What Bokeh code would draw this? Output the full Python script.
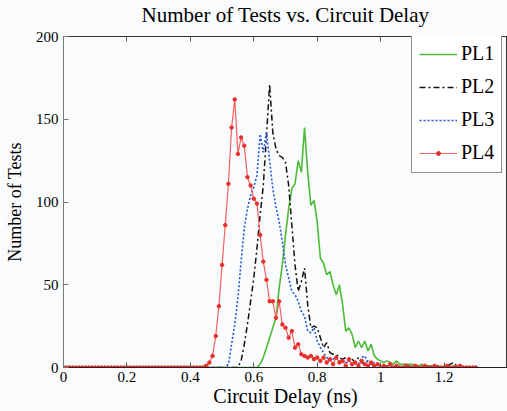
from bokeh.plotting import figure
from bokeh.models import (Range1d, LinearAxis, FixedTicker, Legend,
                          LegendItem, CustomJSTickFormatter)
from bokeh.embed import file_html
from bokeh.resources import INLINE

# ---------------- data ----------------
delay = [i / 100 for i in range(131)]  # circuit delay bins (ns), 0.00 .. 1.30

pl1 = [0, 0, 0, 0, 0, 0, 0, 0, 0, 0,
       0, 0, 0, 0, 0, 0, 0, 0, 0, 0,
       0, 0, 0, 0, 0, 0, 0, 0, 0, 0,
       0, 0, 0, 0, 0, 0, 0, 0, 0, 0,
       0, 0, 0, 0, 0, 0, 0, 0, 0, 0,
       0, 0, 0, 0, 0, 0, 0, 0, 0, 0,
       0, 0, 2, 6, 12, 18, 24, 30, 48, 62,
       80, 96, 108, 111, 125, 118, 145, 118, 98, 101,
       88, 66, 63, 56, 58, 50, 44, 50, 38, 22,
       24, 20, 12, 16, 12, 16, 10, 14, 7, 5,
       4, 3, 4, 3, 2, 4, 2, 2, 2, 2,
       2, 1, 1, 2, 1, 1, 1, 0, 1, 0,
       0, 0, 0, 1, 0, 0, 0, 0, 0, 0, 0]

pl2 = [0, 0, 0, 0, 0, 0, 0, 0, 0, 0,
       0, 0, 0, 0, 0, 0, 0, 0, 0, 0,
       0, 0, 0, 0, 0, 0, 0, 0, 0, 0,
       0, 0, 0, 0, 0, 0, 0, 0, 0, 0,
       0, 0, 0, 0, 0, 0, 0, 0, 0, 0,
       0, 0, 0, 0, 0, 0, 4, 14, 26, 40,
       54, 72, 92, 110, 140, 171, 142, 132, 128, 127,
       124, 110, 86, 62, 46, 52, 60, 38, 24, 25,
       24, 18, 12, 15, 9, 8, 8, 6, 5, 6,
       4, 5, 3, 6, 3, 2, 4, 2, 1, 2,
       1, 0, 1, 0, 0, 1, 0, 0, 0, 1,
       0, 0, 1, 0, 0, 0, 0, 0, 1, 0,
       0, 1, 2, 3, 1, 0, 0, 0, 0, 0, 0]

pl3 = [0, 0, 0, 0, 0, 0, 0, 0, 0, 0,
       0, 0, 0, 0, 0, 0, 0, 0, 0, 0,
       0, 0, 0, 0, 0, 0, 0, 0, 0, 0,
       0, 0, 0, 0, 0, 0, 0, 0, 0, 0,
       0, 0, 0, 0, 0, 0, 0, 0, 0, 0,
       0, 0, 2, 14, 26, 42, 64, 84, 96, 104,
       109, 116, 141, 130, 142, 125, 108, 97, 88, 76,
       62, 54, 46, 44, 40, 34, 31, 22, 21, 24,
       16, 12, 9, 6, 4, 5, 6, 4, 5, 3,
       4, 2, 3, 2, 6, 7, 3, 2, 3, 1,
       2, 1, 0, 1, 0, 0, 1, 0, 0, 0,
       0, 0, 0, 0, 0, 0, 0, 0, 0, 0,
       0, 1, 0, 0, 0, 0, 0, 0, 0, 0, 0]

pl4 = [0, 0, 0, 0, 0, 0, 0, 0, 0, 0,
       0, 0, 0, 0, 0, 0, 0, 0, 0, 0,
       0, 0, 0, 0, 0, 0, 0, 0, 0, 0,
       0, 0, 0, 0, 0, 0, 0, 0, 0, 0,
       0, 0, 0, 0, 0, 1, 3, 7, 19, 37,
       62, 86, 111, 145, 162, 129, 139, 134, 115, 110,
       102, 99, 80, 64, 53, 40, 40, 30, 40, 26,
       24, 18, 22, 12, 14, 8, 7, 6, 7, 5,
       6, 4, 6, 3, 5, 2, 6, 3, 4, 1,
       5, 2, 3, 1, 4, 2, 1, 3, 1, 2,
       0, 1, 0, 2, 0, 1, 0, 0, 1, 0,
       0, 1, 0, 0, 1, 0, 0, 1, 0, 0,
       0, 1, 0, 0, 0, 1, 0, 0, 0, 0, 0]

series_names = ["PL1", "PL2", "PL3", "PL4"]
x_ticks = [0, 0.2, 0.4, 0.6, 0.8, 1.0, 1.2]
x_tick_labels = ["0", "0.2", "0.4", "0.6", "0.8", "1", "1.2"]
y_ticks = [0, 50, 100, 150, 200]

title_text = "Number of Tests vs. Circuit Delay"
x_label = "Circuit Delay (ns)"
y_label = "Number of Tests"

# ---------------- style ----------------
BG = "#fafbfd"
FONT = "'Liberation Serif'"
TXT = "#000000"
GREEN = "#4dbb35"
BLACK = "#111111"
BLUE = "#2455d4"
RED_LINE = "#f36060"
RED_MARK = "#e8302a"

x0, x1 = 0, 1.4
y0, y1 = 0, 200

p = figure(width=507, height=411,
           x_range=Range1d(x0, x1), y_range=Range1d(y0, y1),
           output_backend="svg", toolbar_location=None,
           min_border_left=63, min_border_right=0,
           min_border_top=35, min_border_bottom=44,
           background_fill_color=BG, border_fill_color=BG)
p.grid.visible = False
p.outline_line_color = "#333333"
p.outline_line_width = 1

p.title.text = title_text
p.title.align = "center"
p.title.text_font = FONT
p.title.text_font_size = "21px"
p.title.text_font_style = "normal"
p.title.text_color = TXT
p.title.standoff = 0

for ax in (p.xaxis[0], p.yaxis[0]):
    ax.major_tick_in = 5
    ax.major_tick_out = 0
    ax.minor_tick_in = 0
    ax.minor_tick_out = 0
    ax.major_label_text_font = FONT
    ax.major_label_text_font_size = "15px"
    ax.major_label_text_font_style = "normal"
    ax.major_label_text_color = TXT
    ax.axis_label_text_font = FONT
    ax.axis_label_text_font_style = "normal"
    ax.axis_label_text_color = TXT

p.xaxis[0].ticker = FixedTicker(ticks=x_ticks)
p.xaxis[0].formatter = CustomJSTickFormatter(args=dict(labels=x_tick_labels),
                                             code="return labels[index];")
p.xaxis[0].axis_line_color = "#222222"
p.xaxis[0].major_tick_line_color = "#555555"
p.xaxis[0].major_label_standoff = 4
p.xaxis[0].axis_label = x_label
p.xaxis[0].axis_label_text_font_size = "20px"
p.xaxis[0].axis_label_standoff = 0

p.yaxis[0].ticker = FixedTicker(ticks=y_ticks)
p.yaxis[0].axis_line_color = "#7a7a7a"
p.yaxis[0].major_tick_line_color = "#7a7a7a"
p.yaxis[0].major_label_standoff = 5
p.yaxis[0].axis_label = y_label
p.yaxis[0].axis_label_text_font_size = "18px"
p.yaxis[0].axis_label_standoff = 8

# visible inward ticks along the top edge
top = LinearAxis(ticker=FixedTicker(ticks=x_ticks), major_tick_in=5,
                 major_tick_out=0, minor_tick_in=0, minor_tick_out=0,
                 formatter=CustomJSTickFormatter(code="return '';"),
                 major_label_standoff=0,
                 axis_line_color="#333333", major_tick_line_color="#555555")
p.add_layout(top, "above")

# invisible spacer that lifts the title towards the top of the page
spacer = LinearAxis(ticker=FixedTicker(ticks=x_ticks), major_tick_in=0,
                    major_tick_out=10, minor_tick_in=0, minor_tick_out=0,
                    formatter=CustomJSTickFormatter(code="return '';"),
                    major_label_standoff=0,
                    axis_line_color=None, major_tick_line_color=None)
p.add_layout(spacer, "above")

r1 = p.line(delay, pl1, line_color=GREEN, line_width=1.6)
r2 = p.line(delay, pl2, line_color=BLACK, line_width=1.5, line_dash="6 3 2 3")
r3 = p.line(delay, pl3, line_color=BLUE, line_width=1.6, line_dash="2 2")
r4 = p.line(delay, pl4, line_color=RED_LINE, line_width=1.2)
r4m = p.scatter(delay, pl4, size=3.5, fill_color=RED_MARK, line_color=RED_MARK)

legend = Legend(items=[LegendItem(label=series_names[0], renderers=[r1]),
                       LegendItem(label=series_names[1], renderers=[r2]),
                       LegendItem(label=series_names[2], renderers=[r3]),
                       LegendItem(label=series_names[3], renderers=[r4, r4m])],
                location=(348, 194), orientation="vertical",
                label_text_font=FONT,
                label_text_font_size="20px", label_text_font_style="normal",
                label_text_color=TXT,
                glyph_width=38, glyph_height=10, label_height=25,
                spacing=8, padding=7, label_standoff=4, margin=0,
                border_line_color="#222222", border_line_width=1,
                background_fill_color="white", background_fill_alpha=1.0)
p.add_layout(legend)

open("out.html", "w").write(file_html(p, INLINE))
